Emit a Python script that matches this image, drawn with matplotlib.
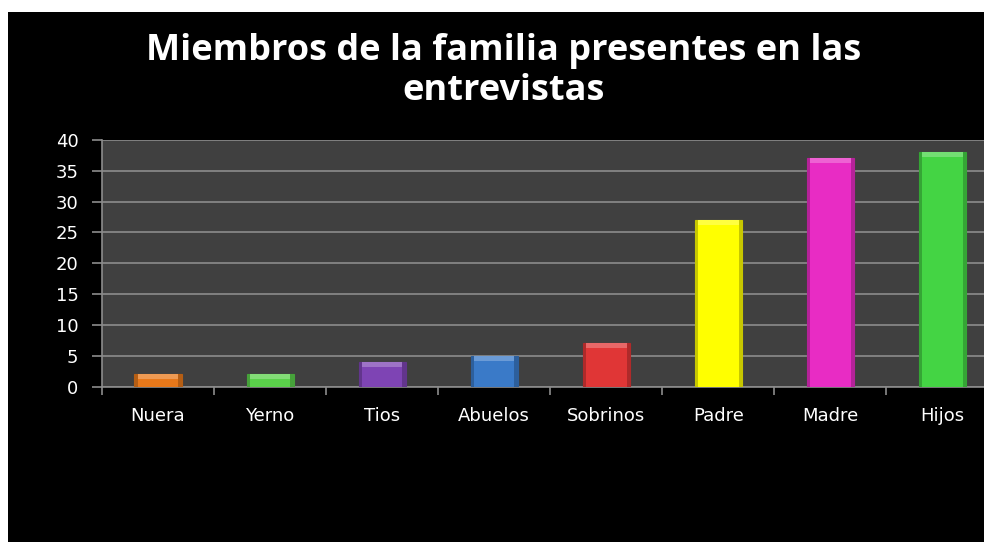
import matplotlib
matplotlib.use("Agg")
import matplotlib.pyplot as plt
import matplotlib.colors as mcolors
import numpy as np

categories = ["Nuera", "Yerno", "Tios", "Abuelos", "Sobrinos", "Padre", "Madre", "Hijos"]
values = [2, 2, 4, 5, 7, 27, 37, 38]
colors = ["#E8781A", "#5AD04A", "#7E44B4", "#3A7AC8", "#E03636", "#FFFF00", "#E82CC4", "#44D444"]
yticks = [0, 5, 10, 15, 20, 25, 30, 35, 40]
title = "Miembros de la familia presentes en las\nentrevistas"

W, H = 984, 542
fig = plt.figure(figsize=(W / 100, H / 100), dpi=100, facecolor="white")
bg = fig.add_axes([8 / W, 0, 1 - 8 / W, 1 - 12 / H], zorder=-1)
bg.set_facecolor("black")
bg.set_xticks([]); bg.set_yticks([])
for s in bg.spines.values():
    s.set_visible(False)

left, right = 102 / W, 998.5 / W
bottom, top = 1 - 386.5 / H, 1 - 140 / H
ax = fig.add_axes([left, bottom, right - left, top - bottom], zorder=1)
ax.set_facecolor("#404040")

x = np.arange(len(categories))
bw = 0.42

def shade(c, f):
    r, g, b = mcolors.to_rgb(c)
    if f < 1:
        return (r * f, g * f, b * f)
    return (r + (1 - r) * (f - 1), g + (1 - g) * (f - 1), b + (1 - b) * (f - 1))

dark = [shade(c, 0.78) for c in colors]
light = [shade(c, 1.25) for c in colors]
ax.bar(x, values, width=bw, color=dark, edgecolor=dark, linewidth=0.8, zorder=3)
ax.bar(x, values, width=bw * 0.86, color=colors, edgecolor="none", zorder=4)
topband = [min(v, 0.8) for v in values]
ax.bar(x, topband, bottom=[v - t for v, t in zip(values, topband)], width=bw * 0.86,
       color=light, edgecolor="none", zorder=5)

ax.set_xlim(-0.5, len(categories) - 0.5)
ax.set_ylim(0, 40)
ax.set_yticks(yticks)
ax.yaxis.grid(True, color="#8C8C8C", linewidth=1.2, zorder=1)
ax.set_axisbelow(True)

ax.set_xticks(x)
ax.set_xticklabels(categories)
ax.set_xticks(np.arange(-0.5, len(categories) + 0.5, 1), minor=True)
ax.tick_params(axis="x", which="major", length=0, pad=15, labelsize=13, labelcolor="white")
ax.tick_params(axis="x", which="minor", length=6, color="#8C8C8C", width=1.2)
ax.tick_params(axis="y", length=7, color="#8C8C8C", width=1.2, labelsize=13, labelcolor="white", pad=10)
for lbl in ax.get_xticklabels() + ax.get_yticklabels():
    lbl.set_fontfamily("DejaVu Sans")

for s in ["top", "right"]:
    ax.spines[s].set_visible(False)
for s in ["left", "bottom"]:
    ax.spines[s].set_color("#8C8C8C")
    ax.spines[s].set_linewidth(1.2)

fig.text(504 / W, 1 - 71 / H, title, ha="center", va="center", color="white",
         fontsize=26, fontweight="bold", fontfamily="Open Sans", linespacing=1.12)

fig.savefig("out.png", dpi=100, facecolor=fig.get_facecolor())
